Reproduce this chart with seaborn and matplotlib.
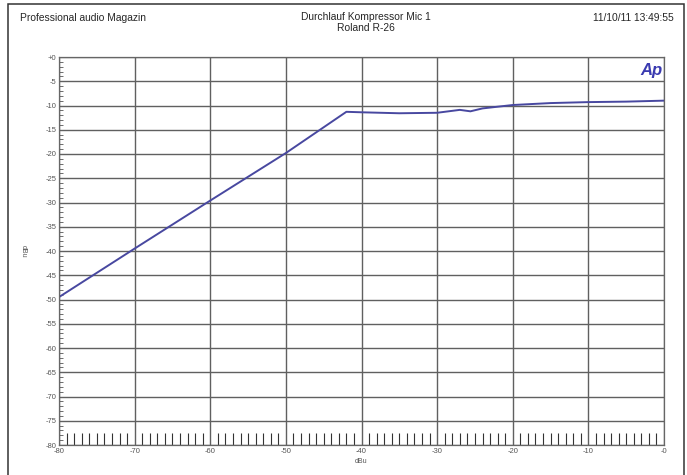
import numpy as np
import pandas as pd
import matplotlib
matplotlib.use("Agg")
import matplotlib.pyplot as plt
from matplotlib.patches import Rectangle
import seaborn as sns

# input level vs output level of the compressor
input_dbu = [-80, -70, -60, -50, -42, -40, -35, -30, -27, -25.6, -24, -20, -15, -10, -5, 0]
output_dbu = [-49.5, -39.5, -29.6, -19.8, -11.3, -11.4, -11.6, -11.5, -10.9, -11.2, -10.6, -9.9, -9.5, -9.3, -9.2, -9.0]

x_ticks = list(range(-80, 1, 10))
x_labels = ['-80', '-70', '-60', '-50', '-40', '-30', '-20', '-10', '-0']
y_ticks = list(range(0, -81, -5))
y_labels = ['+0'] + [str(v) for v in y_ticks[1:]]

df = pd.DataFrame({'in': input_dbu, 'out': output_dbu})

sns.set_style('white')
plt.rcParams['font.family'] = ['Liberation Sans', 'DejaVu Sans']

fig = plt.figure(figsize=(6.87, 4.75), dpi=100)
ax = fig.add_axes([59 / 687, 1 - 445 / 475, 605 / 687, 388 / 475])

sns.lineplot(data=df, x='in', y='out', ax=ax, color='#4848a0', linewidth=1.4)

ax.set_xlim(-80, 0)
ax.set_ylim(-80, 0)
ax.set_xticks(x_ticks)
ax.set_xticklabels(x_labels)
ax.set_yticks(y_ticks)
ax.set_yticklabels(y_labels)
ax.set_xticks(np.arange(-80, 1, 1), minor=True)
ax.set_yticks(np.arange(-80, 1, 1), minor=True)
ax.grid(True, which='major', color='#606060', linewidth=1.0)
ax.tick_params(which='major', length=0, labelsize=5.5, labelcolor='#555555', pad=2)
ax.tick_params(axis='x', which='minor', direction='in', length=9, width=0.8, color='#333333', bottom=True)
ax.tick_params(axis='y', which='minor', direction='in', length=3, width=0.6, color='#555555', left=True)
for s in ax.spines.values():
    s.set_color('#666666')
    s.set_linewidth(0.9)

ax.set_xlabel('dBu', fontsize=5, color='#555555', labelpad=2)
ax.set_ylabel('dBu', fontsize=5, color='#555555', rotation=270, labelpad=8)
ax.yaxis.set_label_coords(-0.065, 0.5)

ax.text(0.997, 0.985, 'Ap', transform=ax.transAxes, ha='right', va='top',
        fontsize=12, fontweight='bold', fontstyle='italic', color='#3a3ab0')

fig.text(20 / 687, 1 - 18 / 475, 'Professional audio Magazin', fontsize=7.4, va='center', ha='left')
fig.text(366 / 687, 1 - 17 / 475, 'Durchlauf Kompressor Mic 1', fontsize=7.4, va='center', ha='center')
fig.text(366 / 687, 1 - 28 / 475, 'Roland R-26', fontsize=7.4, va='center', ha='center')
fig.text(674 / 687, 1 - 18 / 475, '11/10/11 13:49:55', fontsize=7.4, va='center', ha='right')

fig.patches.append(Rectangle((8 / 687, -0.02), 676 / 687, 1 - 4 / 475 + 0.02,
                             transform=fig.transFigure, fill=False,
                             edgecolor='#333333', linewidth=1.1))

fig.savefig('out.png', dpi=100)
